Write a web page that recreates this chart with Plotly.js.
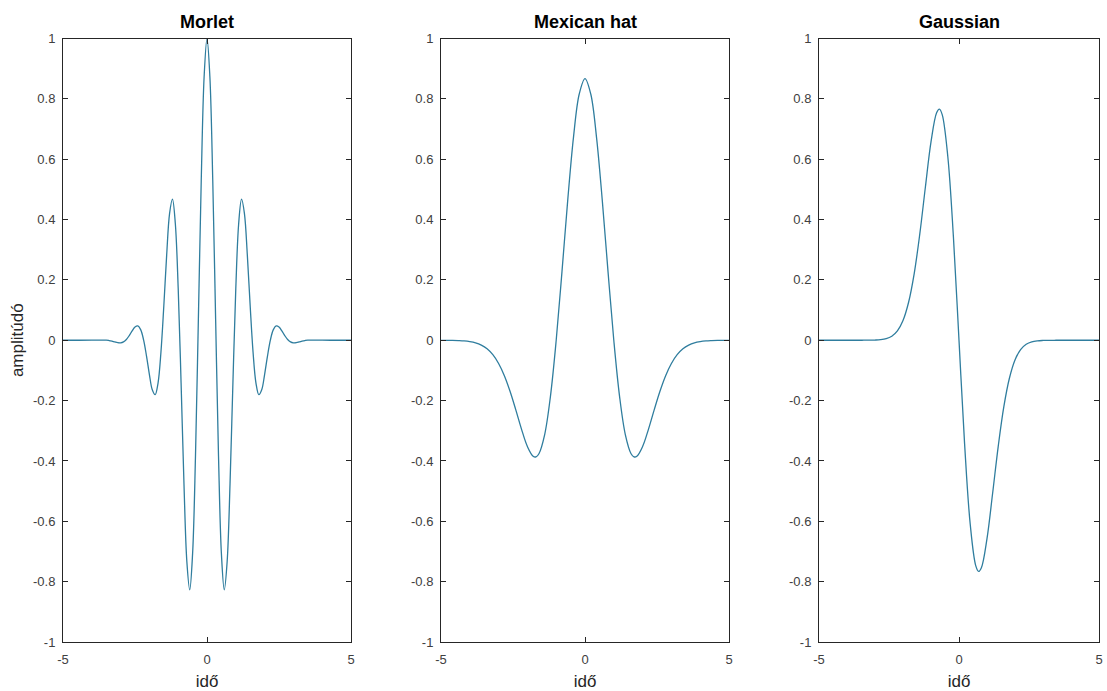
<!DOCTYPE html>
<html>
<head>
<meta charset="utf-8">
<script src="https://cdn.plot.ly/plotly-3.0.1.min.js"></script>
<style>html,body{margin:0;padding:0;background:#fff;}#chart{width:1107px;height:691px;}</style>
</head>
<body>
<div id="chart"></div>
<script>
// Panel titles and axis labels
const panelTitles = ["Morlet", "Mexican hat", "Gaussian"];
const xLabel = "idő";
const yLabel = "amplitúdó";
const xTickVals = [-5, 0, 5];
const yTickVals = [-1, -0.8, -0.6, -0.4, -0.2, 0, 0.2, 0.4, 0.6, 0.8, 1];
const yTickText = ["-1", "-0.8", "-0.6", "-0.4", "-0.2", "0", "0.2", "0.4", "0.6", "0.8", "1"];

// Morlet wavelet
const morletX = [-5, -4.5, -4, -3.5, -3.4, -3.3, -3.2, -3.1, -3.0, -2.9, -2.8, -2.7, -2.6, -2.5, -2.4, -2.3, -2.2, -2.1, -2.0,
  -1.9, -1.8, -1.7, -1.6, -1.5, -1.4, -1.3, -1.2, -1.1, -1.0, -0.9, -0.8, -0.7, -0.6, -0.5, -0.4, -0.3, -0.2, -0.1, 0,
  0.1, 0.2, 0.3, 0.4, 0.5, 0.6, 0.7, 0.8, 0.9, 1.0, 1.1, 1.2, 1.3, 1.4, 1.5, 1.6, 1.7, 1.8, 1.9, 2.0,
  2.1, 2.2, 2.3, 2.4, 2.5, 2.6, 2.7, 2.8, 2.9, 3.0, 3.1, 3.2, 3.3, 3.4, 3.5, 4, 4.5, 5];
const morletY = [0, 0, 0.0001, 0.0005, -0.0009, -0.0030, -0.0057, -0.0080, -0.0084, -0.0053, 0.0027, 0.0155, 0.0309, 0.0438, 0.0473, 0.0343, 0.0004, -0.0524, -0.1136,
  -0.1640, -0.1803, -0.1419, -0.0405, 0.1125, 0.2829, 0.4195, 0.4674, 0.3870, 0.1721, -0.1406, -0.4746, -0.7330, -0.8270, -0.7070, -0.3841, 0.0676, 0.5296, 0.8732, 1.0000,
  0.8732, 0.5296, 0.0676, -0.3841, -0.7070, -0.8270, -0.7330, -0.4746, -0.1406, 0.1721, 0.3870, 0.4674, 0.4195, 0.2829, 0.1125, -0.0405, -0.1419, -0.1803, -0.1640, -0.1136,
  -0.0524, 0.0004, 0.0343, 0.0473, 0.0438, 0.0309, 0.0155, 0.0027, -0.0053, -0.0084, -0.0080, -0.0057, -0.0030, -0.0009, 0.0005, 0.0001, 0, 0];

// Mexican hat wavelet
const mexhatX = [-5, -4.8, -4.6, -4.4, -4.2, -4.0, -3.8, -3.6, -3.4, -3.2, -3.0, -2.8, -2.6, -2.4, -2.2, -2.0, -1.8, -1.7, -1.6, -1.4, -1.2, -1.0,
  -0.8, -0.6, -0.4, -0.2, 0, 0.2, 0.4, 0.6, 0.8, 1.0, 1.2, 1.4, 1.6, 1.7, 1.8, 2.0, 2.2, 2.4, 2.6, 2.8, 3.0, 3.2, 3.4, 3.6, 3.8, 4.0, 4.2, 4.4, 4.6, 4.8, 5];
const mexhatY = [-0.0001, -0.0002, -0.0004, -0.0010, -0.0021, -0.0044, -0.0085, -0.0160, -0.0283, -0.0479, -0.0771, -0.1175, -0.1699, -0.2316, -0.2961, -0.3521, -0.3845, -0.3864, -0.3761, -0.3125, -0.1858, 0,
  0.2267, 0.4636, 0.6725, 0.8161, 0.8673, 0.8161, 0.6725, 0.4636, 0.2267, 0, -0.1858, -0.3125, -0.3761, -0.3864, -0.3845, -0.3521, -0.2961, -0.2316, -0.1699, -0.1175, -0.0771, -0.0479, -0.0283, -0.0160, -0.0085, -0.0044, -0.0021, -0.0010, -0.0004, -0.0002, -0.0001];

// Gaussian wavelet
const gausX = [-5, -4.5, -4, -3.6, -3.4, -3.2, -3.0, -2.8, -2.6, -2.4, -2.2, -2.0, -1.8, -1.6, -1.4, -1.2, -1.0, -0.8, -0.7, -0.6, -0.4, -0.2, 0,
  0.2, 0.4, 0.6, 0.7, 0.8, 1.0, 1.2, 1.4, 1.6, 1.8, 2.0, 2.2, 2.4, 2.6, 2.8, 3.0, 3.2, 3.4, 3.6, 4, 4.5, 5];
const gausY = [0, 0, 0, 0, 0.0001, 0.0002, 0.0007, 0.0020, 0.0054, 0.0135, 0.0311, 0.0654, 0.1260, 0.2210, 0.3523, 0.5079, 0.6572, 0.7536, 0.7661, 0.7478, 0.6090, 0.3433, 0,
  -0.3433, -0.6090, -0.7478, -0.7661, -0.7536, -0.6572, -0.5079, -0.3523, -0.2210, -0.1260, -0.0654, -0.0311, -0.0135, -0.0054, -0.0020, -0.0007, -0.0002, -0.0001, 0, 0, 0, 0];

const lineColor = "#2f7d9e";
const axisColor = "#262626";
const tickColor = "#404040";
const fontFam = "Liberation Sans, Arial, sans-serif";

const seriesX = [morletX, mexhatX, gausX];
const seriesY = [morletY, mexhatY, gausY];
const xDomains = [[63/1107, 351/1107], [441/1107, 729/1107], [819/1107, 1099/1107]];
const yDomain = [1 - 642/691, 1 - 38.5/691];

const data = [];
const layout = {
  width: 1107, height: 691,
  margin: {l: 0, r: 0, t: 0, b: 0},
  paper_bgcolor: "#ffffff", plot_bgcolor: "#ffffff",
  showlegend: false,
  font: {family: fontFam, color: axisColor, size: 13},
  annotations: []
};

for (let i = 0; i < 3; i++) {
  const sfx = i === 0 ? "" : String(i + 1);
  data.push({
    x: seriesX[i], y: seriesY[i],
    xaxis: "x" + sfx, yaxis: "y" + sfx,
    type: "scatter", mode: "lines",
    line: {color: lineColor, width: 1.3, shape: "spline", smoothing: 1},
    hoverinfo: "skip"
  });
  layout["xaxis" + sfx] = {
    domain: xDomains[i], anchor: "y" + sfx,
    range: [-5, 5], tickvals: xTickVals, ticktext: xTickVals.map(String),
    ticks: "inside", ticklen: 5, tickwidth: 1, tickcolor: axisColor,
    showline: true, linecolor: axisColor, linewidth: 1, mirror: "ticks",
    showgrid: false, zeroline: false,
    ticklabeloverflow: "allow", ticklabelstandoff: 5,
    tickfont: {family: fontFam, size: 13, color: tickColor},
    title: {text: xLabel, font: {family: fontFam, size: 17, color: axisColor}, standoff: 12}
  };
  layout["yaxis" + sfx] = {
    domain: yDomain, anchor: "x" + sfx,
    range: [-1, 1], tickvals: yTickVals, ticktext: yTickText,
    ticks: "inside", ticklen: 5, tickwidth: 1, tickcolor: axisColor,
    showline: true, linecolor: axisColor, linewidth: 1, mirror: "ticks",
    showgrid: false, zeroline: false,
    ticklabeloverflow: "allow", ticklabelstandoff: 4,
    tickfont: {family: fontFam, size: 13, color: tickColor},
    title: i === 0 ? {text: yLabel, font: {family: fontFam, size: 17, color: axisColor}, standoff: 5} : {text: ""}
  };
  layout.annotations.push({
    text: "<b>" + panelTitles[i] + "</b>",
    xref: "paper", yref: "paper",
    x: (xDomains[i][0] + xDomains[i][1]) / 2, y: yDomain[1],
    xanchor: "center", yanchor: "bottom", yshift: 5,
    showarrow: false,
    font: {family: fontFam, size: 18, color: "#000000"}
  });
}

Plotly.newPlot("chart", data, layout, {displayModeBar: false, staticPlot: true});
</script>
</body>
</html>
